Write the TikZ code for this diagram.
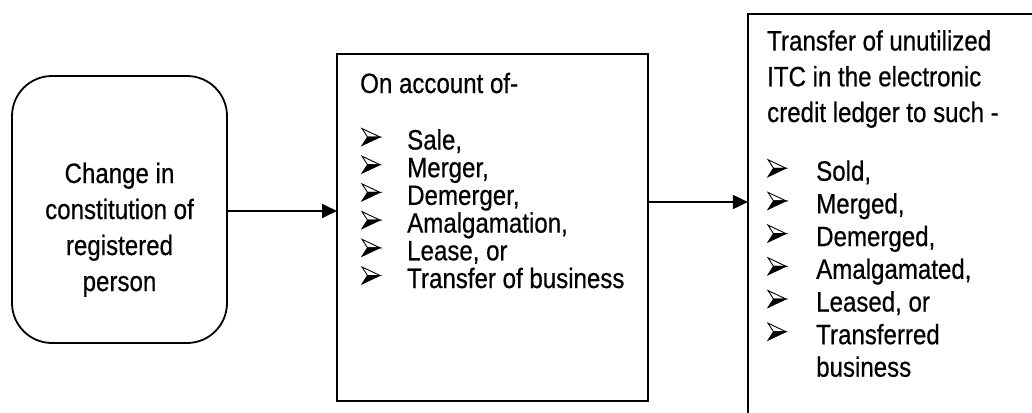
\documentclass[tikz,border=0pt]{standalone}
\usepackage{fontspec}
\setmainfont[FakeStretch=0.86,FakeBold=0.5]{Liberation Sans}
\usetikzlibrary{arrows.meta}
\tikzset{
  boxline/.style={draw=black, line width=1.8pt},
  txt/.style={inner sep=0pt, anchor=base west, font=\fontsize{28}{30}\selectfont},
  ctxt/.style={inner sep=0pt, anchor=base, font=\fontsize{28}{30}\selectfont},
  arr/.style={line width=1.8pt, -{Triangle[length=15pt,width=14pt]}, shorten >=-0.9pt},
  bul/.pic={
    \draw[line width=0.9pt, line join=miter, fill=white] (0,-8.5) -- (18,0) -- (5.5,0) -- cycle;
    \fill[black] (5.5,0) -- (18,0) -- (0,8.5) -- cycle;
    \draw[line width=0.9pt, line join=miter] (5.5,0) -- (18,0) -- (0,8.5) -- cycle;
  }
}
\begin{document}
\begin{tikzpicture}[x=1pt,y=-1pt]
\clip (0,0) rectangle (1032,412);
\fill[white] (0,0) rectangle (1032,412);
% boxes
\node[boxline, rounded corners=40pt, minimum width=215pt, minimum height=267pt, inner sep=0pt] (lbox) at (119.5,209.5) {};
\node[boxline, minimum width=311pt, minimum height=347pt, inner sep=0pt] (mbox) at (492.5,227.5) {};
\node[boxline, minimum width=300pt, minimum height=412pt, inner sep=0pt, anchor=north west] (rbox) at (747,13) {};
% left text
\node[ctxt] (l1) at (119.5,183) {Change in};
\node[ctxt] (l2) at (119.5,219) {constitution of};
\node[ctxt] (l3) at (119.5,255) {registered};
\node[ctxt] (l4) at (119.5,291) {person};
% middle text
\node[txt] (mh) at (360,93) {On account of-};
\foreach \t [count=\i] in {Sale{,}, Merger{,}, Demerger{,}, Amalgamation{,}, {Lease, or}, Transfer of business}{
  \pgfmathsetmacro{\yb}{149.5+27.7*(\i-1)}
  \pic at (362,\yb-12.5) {bul};
  \node[txt] (m\i) at (407,\yb) {\t};
}
% right text
\node[txt] (rh1) at (767,50.5) {Transfer of unutilized};
\node[txt] (rh2) at (767,86.3) {ITC in the electronic};
\node[txt] (rh3) at (767,122) {credit ledger to such -};
\foreach \t [count=\i] in {Sold{,}, Merged{,}, Demerged{,}, Amalgamated{,}, {Leased, or}, Transferred}{
  \pgfmathsetmacro{\yb}{180.7+32.7*(\i-1)}
  \pic at (768,\yb-12.5) {bul};
  \node[txt] (r\i) at (816,\yb) {\t};
}
\node[txt] (r7) at (816,376.7) {business};
% arrows
\draw[arr] ([yshift=-1.5pt]lbox.east) -- ([yshift=-1.5pt]lbox.east -| mbox.west);
\draw[arr] ([yshift=25.5pt]mbox.east) -- ([yshift=25.5pt]mbox.east -| rbox.west);
\end{tikzpicture}
\end{document}
